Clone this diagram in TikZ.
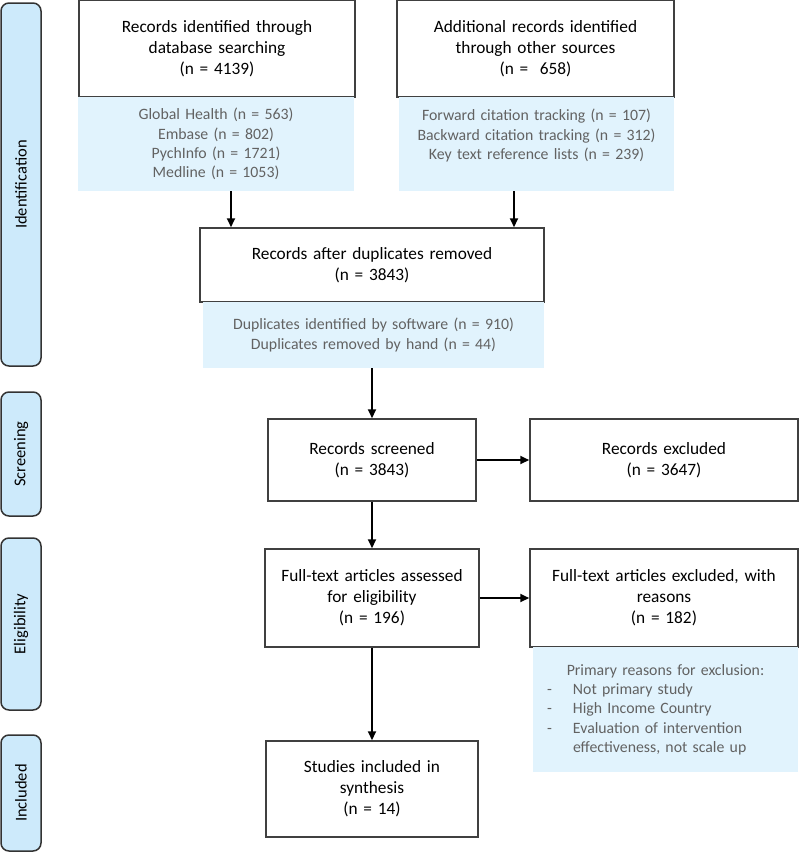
\documentclass[tikz,border=0pt]{standalone}
\usepackage{fontspec}
\setmainfont{Carlito}
\usetikzlibrary{arrows.meta}

\definecolor{notefill}{HTML}{E1F3FD}
\definecolor{phasefill}{HTML}{CDEAFB}
\definecolor{notetext}{HTML}{626262}
\definecolor{boxline}{HTML}{404040}

\begin{document}
\begin{tikzpicture}[x=1pt, y=-1pt,
    box/.style={draw=boxline, line width=1.5pt, align=center, inner sep=4pt, font=\fontsize{17.3}{21}\selectfont},
    note/.style={fill=notefill, align=center, inner sep=4pt, text=notetext, font=\fontsize{15.8}{19.3}\selectfont},
    phase/.style={draw=black!80, fill=phasefill, rounded corners=8pt, line width=1.5pt, rotate=90, minimum height=40pt, inner sep=0pt, font=\fontsize{16.5}{19}\selectfont},
    flow/.style={-{Triangle[length=9pt,width=8pt]}, line width=2pt}]
    \useasboundingbox (0,0) rectangle (799,852);

    % Phases
    \node[phase, minimum width=363pt] (ident) at (21,184.5) {Identification};
    \node[phase, minimum width=124pt] (screen) at (21,454) {Screening};
    \node[phase, minimum width=172pt] (elig) at (21,624) {Eligibility};
    \node[phase, minimum width=116pt] (inclph) at (21,793) {Included};

    % Boxes
    \node[box, minimum width=276pt, minimum height=97pt, text width=266pt] (src1) at (217,48.5) {Records identified through\\database searching\\(n = 4139)};
    \node[note, minimum width=276pt, minimum height=94pt, text width=266pt] (note1) at (216,144) {Global Health (n = 563)\\Embase (n = 802)\\PychInfo (n = 1721)\\Medline (n = 1053)};
    \node[box, minimum width=277pt, minimum height=97pt, text width=267pt] (src2) at (535.5,48.5) {Additional records identified\\through other sources\\(n =\ \ 658)};
    \node[note, minimum width=275pt, minimum height=94pt, text width=265pt] (note2) at (536.5,144) {Forward citation tracking (n = 107)\\Backward citation tracking (n = 312)\\Key text reference lists (n = 239)\\ ~};
    \node[box, minimum width=344pt, minimum height=74pt, text width=334pt] (dup) at (372,265) {Records after duplicates removed\\(n = 3843)};
    \node[note, minimum width=341pt, minimum height=66pt, text width=331pt] (note3) at (373.5,335) {Duplicates identified by software (n = 910)\\Duplicates removed by hand (n = 44)};
    \node[box, minimum width=208pt, minimum height=82pt, text width=198pt] (scr) at (372,460) {Records screened\\(n = 3843)};
    \node[box, minimum width=268pt, minimum height=82pt, text width=258pt] (exc) at (664,460) {Records excluded\\(n = 3647)};
    \node[box, minimum width=214pt, minimum height=98pt, text width=204pt] (full) at (372,598) {Full-text articles assessed\\for eligibility\\(n = 196)};
    \node[box, minimum width=268pt, minimum height=98pt, text width=258pt] (fexc) at (664,598) {Full-text articles excluded, with\\reasons\\(n = 182)};
    \node[note, align=left, inner sep=7pt, minimum width=265pt, minimum height=125pt, text width=251pt] (note7) at (665.5,709.5) {\makebox[251pt][c]{Primary reasons for exclusion:}\\
        \hspace*{7pt}\makebox[26pt][l]{-}Not primary study\\
        \hspace*{7pt}\makebox[26pt][l]{-}High Income Country\\
        \hspace*{7pt}\makebox[26pt][l]{-}Evaluation of intervention\\
        \hspace*{33pt}effectiveness, not scale up};
    \node[box, minimum width=212pt, minimum height=96pt, text width=202pt] (incl) at (372,789) {Studies included in\\synthesis\\(n = 14)};

    % Arrows
    \coordinate (inL) at ([xshift=-141pt]dup.north);
    \coordinate (inR) at ([xshift=142pt]dup.north);
    \draw[flow] (note1.south -| inL) -- (inL);
    \draw[flow] (note2.south -| inR) -- (inR);
    \draw[flow] (note3.south -| scr.north) -- (scr.north);
    \draw[flow] (scr) -- (exc);
    \draw[flow] (scr.south) -- (scr.south |- full.north);
    \draw[flow] (full) -- (fexc);
    \draw[flow] (full.south) -- (full.south |- incl.north);
\end{tikzpicture}
\end{document}
